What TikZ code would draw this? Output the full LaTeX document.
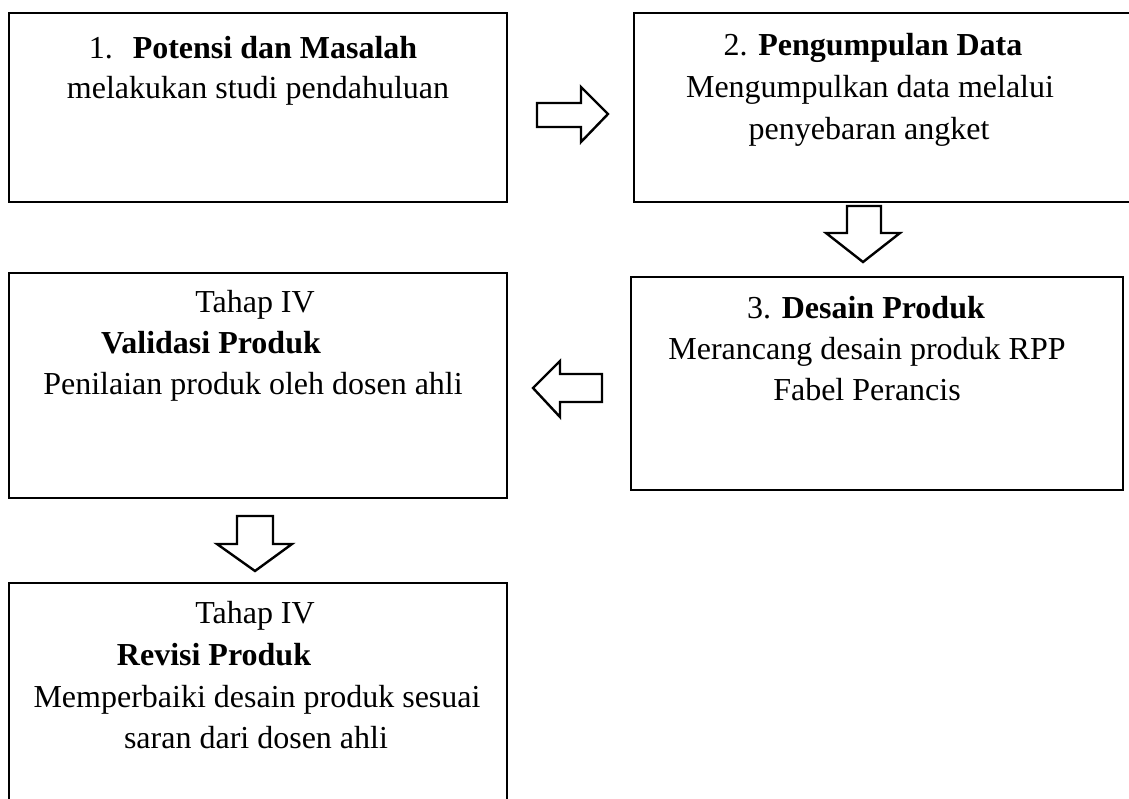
\documentclass[tikz,border=0pt]{standalone}
\usepackage{fontspec}
\setmainfont{Liberation Serif}
\begin{document}
\begin{tikzpicture}[x=1pt,y=-1pt,
  box/.style={draw=black,line width=1.5pt,rectangle,inner sep=0pt},
  txt/.style={anchor=base,inner sep=0pt,font=\fontsize{32}{41}\selectfont},
  blockarrow/.style={draw=black,line width=2.4pt,fill=white,line join=miter}]
\useasboundingbox (0,0) rectangle (1129,798);
% boxes
\node[box,minimum width=498pt,minimum height=189pt] (b1) at (258,107.5) {};
\node[box,minimum width=506pt,minimum height=189pt] (b2) at (887,107.5) {};
\node[box,minimum width=492pt,minimum height=213pt] (b3) at (877,383.5) {};
\node[box,minimum width=498pt,minimum height=225pt] (b4) at (258,385.5) {};
\node[box,minimum width=498pt,minimum height=247pt] (b5) at (258,706.5) {};
% texts box 1
\node[txt] (t11) at (253,58) {1.\hspace{20pt}\textbf{Potensi dan Masalah}};
\node[txt] (t12) at (258,98) {melakukan studi pendahuluan};
% box 2
\node[txt] (t21) at (873,55) {2. \textbf{Pengumpulan Data}};
\node[txt] (t22) at (870,97) {Mengumpulkan data melalui};
\node[txt] (t23) at (869,139) {penyebaran angket};
% box 3
\node[txt] (t31) at (866,318) {3. \textbf{Desain Produk}};
\node[txt] (t32) at (867,359) {Merancang desain produk RPP};
\node[txt] (t33) at (867,400) {Fabel Perancis};
% box 4
\node[txt] (t41) at (255,312) {Tahap IV};
\node[txt] (t42) at (211,353) {\textbf{Validasi Produk}};
\node[txt] (t43) at (253,394) {Penilaian produk oleh dosen ahli};
% box 5
\node[txt] (t51) at (255,623) {Tahap IV};
\node[txt] (t52) at (214,665) {\textbf{Revisi Produk}};
\node[txt] (t53) at (257,707) {Memperbaiki desain produk sesuai};
\node[txt] (t54) at (256,748) {saran dari dosen ahli};
% block arrows
\draw[blockarrow] (537,103) -- (581,103) -- (581,87) -- (608,114) -- (581,142) -- (581,127) -- (537,127) -- cycle;
\draw[blockarrow] (847,206) -- (881,206) -- (881,233) -- (900,233) -- (863,262) -- (826,233) -- (847,233) -- cycle;
\draw[blockarrow] (602,374) -- (560,374) -- (560,361) -- (533,388) -- (560,417) -- (560,402) -- (602,402) -- cycle;
\draw[blockarrow] (237,516) -- (273,516) -- (273,544) -- (292,544) -- (255,571) -- (217,544) -- (237,544) -- cycle;
\end{tikzpicture}
\end{document}
